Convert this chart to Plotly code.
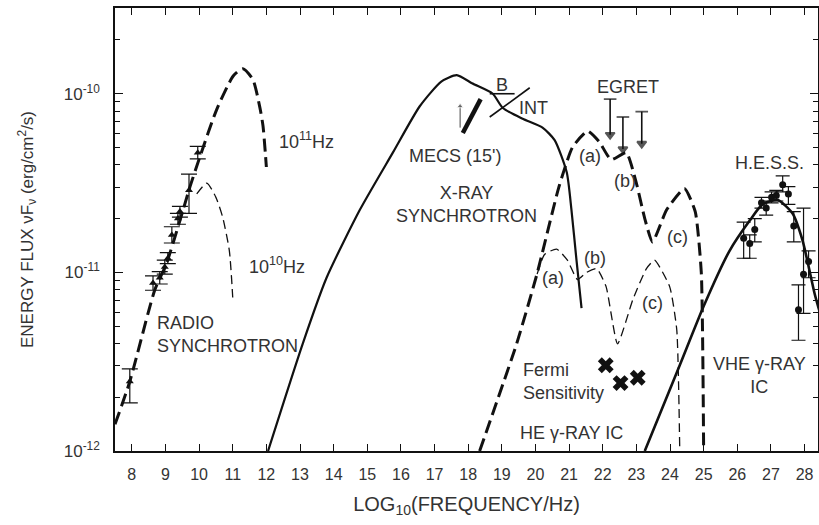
import plotly.graph_objects as go

# ---------------- data (log10 frequency, flux erg/cm^2/s) ----------------
radio_hi_x = [7.5, 7.94, 8.68, 9.03, 9.43, 9.73, 10.03, 10.52, 11.02, 11.3, 11.6, 11.8, 11.9, 12.0]
radio_hi_y = [1.41e-12, 2.45e-12, 7.94e-12, 1.12e-11, 1.95e-11, 3.02e-11, 4.47e-11, 8.13e-11,
              1.26e-10, 1.38e-10, 1.20e-10, 8.5e-11, 6.61e-11, 3.89e-11]

radio_lo_x = [9.93, 10.23, 10.5, 10.7, 10.9, 11.0]
radio_lo_y = [2.75e-11, 3.16e-11, 2.63e-11, 2.04e-11, 1.32e-11, 7.24e-12]

radio_pts_x = [7.94, 8.63, 8.83, 8.98, 9.07, 9.19, 9.37, 9.43, 9.70, 9.96]
radio_pts_y = [2.45e-12, 8.71e-12, 9.33e-12, 1.07e-11, 1.20e-11, 1.62e-11, 2.00e-11, 2.19e-11, 2.88e-11, 4.68e-11]
radio_pts_hi = [2.88e-12, 9.55e-12, 1.01e-11, 1.17e-11, 1.29e-11, 1.80e-11, 2.14e-11, 2.34e-11, 3.55e-11, 5.07e-11]
radio_pts_lo = [1.86e-12, 7.94e-12, 8.61e-12, 9.77e-12, 1.12e-11, 1.46e-11, 1.86e-11, 2.04e-11, 2.14e-11, 4.32e-11]

xray_x = [12.05, 13.08, 13.79, 14.78, 15.76, 16.56, 17.2, 17.66, 18.13, 18.73, 19.03, 19.62,
          20.21, 20.57, 20.93, 21.07, 21.22, 21.37]
xray_y = [1.0e-12, 3.98e-12, 9.33e-12, 2.24e-11, 4.68e-11, 8.51e-11, 1.17e-10, 1.27e-10, 1.14e-10,
          1.00e-10, 8.32e-11, 7.24e-11, 6.46e-11, 5.50e-11, 3.63e-11, 2.24e-11, 1.17e-11, 6.31e-12]

he_thick_x = [18.34, 19.44, 20.03, 20.7, 21.1, 21.55, 21.9, 22.25, 22.7, 23.0, 23.25, 23.48,
              23.9, 24.43, 24.75, 24.93, 25.0]
he_thick_y = [1.0e-12, 3.98e-12, 9.55e-12, 3.02e-11, 5.01e-11, 6.17e-11, 5.37e-11, 4.27e-11,
              4.68e-11, 3.16e-11, 2.00e-11, 1.48e-11, 2.24e-11, 2.95e-11, 2.19e-11, 1.0e-11, 1.0e-12]

he_thin_x = [20.05, 20.27, 20.63, 20.95, 21.25, 21.52, 21.82, 22.1, 22.44, 22.9, 23.3, 23.54,
             23.99, 24.2, 24.29]
he_thin_y = [9.77e-12, 1.26e-11, 1.35e-11, 1.17e-11, 9.12e-12, 1.00e-11, 1.05e-11, 8.32e-12,
             3.98e-12, 7.08e-12, 1.05e-11, 1.17e-11, 8.32e-12, 4.79e-12, 1.0e-12]

vhe_x = [23.25, 24.29, 25.0, 25.77, 26.37, 26.75, 27.2, 27.64, 27.94, 28.3, 28.45]
vhe_y = [1.0e-12, 3.02e-12, 6.46e-12, 1.32e-11, 1.95e-11, 2.40e-11, 2.54e-11, 2.14e-11,
         1.51e-11, 7.59e-12, 6.0e-12]

hess_x = [26.19, 26.37, 26.52, 26.72, 26.86, 27.02, 27.16, 27.35, 27.52, 27.68, 27.82, 27.97, 28.12]
hess_y = [1.55e-11, 1.45e-11, 1.74e-11, 2.45e-11, 2.29e-11, 2.63e-11, 2.69e-11, 3.09e-11,
          2.75e-11, 1.82e-11, 6.17e-12, 9.77e-12, 1.15e-11]
hess_hi = [1.91e-11, 1.62e-11, 2.00e-11, 2.63e-11, 2.51e-11, 2.82e-11, 2.88e-11, 3.47e-11,
           3.02e-11, 2.19e-11, 8.51e-12, 2.29e-11, 1.32e-11]
hess_lo = [1.20e-11, 1.20e-11, 1.48e-11, 2.29e-11, 2.09e-11, 2.45e-11, 2.51e-11, 2.82e-11,
           2.40e-11, 1.48e-11, 4.17e-12, 5.89e-12, 9.33e-12]

fermi_x = [22.09, 22.53, 23.04]
fermi_y = [3.02e-12, 2.40e-12, 2.57e-12]

egret_x = [22.22, 22.6, 23.16]
egret_top = [9.33e-11, 7.41e-11, 7.94e-11]
egret_tip = [5.89e-11, 4.90e-11, 5.25e-11]

mecs_x = [17.84, 18.37]
mecs_y = [6.03e-11, 9.33e-11]
mecs_arrow_x = [17.76, 17.76]
mecs_arrow_y = [6.46e-11, 8.51e-11]

b_x = [18.64, 19.38]
b_y = [1.0e-10, 1.0e-10]
int_x = [18.64, 19.83]
int_y = [7.41e-11, 1.08e-10]

x_ticks = list(range(8, 29))
y_tickvals = [1e-12, 1e-11, 1e-10]
y_ticktext = ["10<sup>-12</sup>", "10<sup>-11</sup>", "10<sup>-10</sup>"]

# ---------------- figure ----------------
INK = "#111111"
TXT = "#333333"
FONT = "Liberation Sans, Arial, sans-serif"
thick_dash = "13px,6px"
thin_dash = "9px,5px"

fig = go.Figure()

def line(x, y, width, dash="solid", smooth=0.6):
    fig.add_trace(go.Scatter(x=x, y=y, mode="lines", line=dict(color=INK, width=width, dash=dash,
                                                                 shape="spline", smoothing=smooth),
                             hoverinfo="skip", showlegend=False))

line(radio_hi_x, radio_hi_y, 3, thick_dash)
line(radio_lo_x, radio_lo_y, 1.3, thin_dash)
line(xray_x, xray_y, 2.2)
line(he_thick_x, he_thick_y, 3, thick_dash, 0.5)
line(he_thin_x, he_thin_y, 1.3, thin_dash, 0.5)
line(vhe_x, vhe_y, 2.6)

# radio data
fig.add_trace(go.Scatter(
    x=radio_pts_x, y=radio_pts_y, mode="markers",
    marker=dict(symbol="triangle-up", size=7, color=INK),
    error_y=dict(type="data", symmetric=False,
                 array=[h - v for h, v in zip(radio_pts_hi, radio_pts_y)],
                 arrayminus=[v - l for l, v in zip(radio_pts_lo, radio_pts_y)],
                 color=INK, thickness=1.2, width=8),
    showlegend=False, hoverinfo="skip"))

# HESS data
fig.add_trace(go.Scatter(
    x=hess_x, y=hess_y, mode="markers",
    marker=dict(symbol="circle", size=7, color=INK),
    error_y=dict(type="data", symmetric=False,
                 array=[h - v for h, v in zip(hess_hi, hess_y)],
                 arrayminus=[v - l for l, v in zip(hess_lo, hess_y)],
                 color=INK, thickness=1.2, width=7),
    showlegend=False, hoverinfo="skip"))

# Fermi sensitivity
fig.add_trace(go.Scatter(x=fermi_x, y=fermi_y, mode="markers",
                         marker=dict(symbol="x", size=14, color=INK),
                         showlegend=False, hoverinfo="skip"))

# EGRET upper limits
for xe, yt, yb in zip(egret_x, egret_top, egret_tip):
    fig.add_trace(go.Scatter(x=[xe, xe], y=[yt, yb], mode="lines+markers",
                             line=dict(color=INK, width=1.6),
                             marker=dict(symbol=["line-ew", "triangle-down"], size=[9, 8],
                                         color=INK, line=dict(color=INK, width=1.8)),
                             showlegend=False, hoverinfo="skip"))

# MECS
fig.add_trace(go.Scatter(x=mecs_x, y=mecs_y, mode="lines", line=dict(color=INK, width=4.5),
                         showlegend=False, hoverinfo="skip"))
fig.add_trace(go.Scatter(x=mecs_arrow_x, y=mecs_arrow_y, mode="lines+markers",
                         line=dict(color="#444444", width=1),
                         marker=dict(symbol=["circle", "triangle-up"], size=[0, 6], color="#444444"),
                         showlegend=False, hoverinfo="skip"))
# B and INT
fig.add_trace(go.Scatter(x=b_x, y=b_y, mode="lines", line=dict(color=INK, width=1.6),
                         showlegend=False, hoverinfo="skip"))
fig.add_trace(go.Scatter(x=int_x, y=int_y, mode="lines", line=dict(color=INK, width=1.6),
                         showlegend=False, hoverinfo="skip"))

# ---------------- text ----------------
ANN = 18

def txt(x, logy, s, xanchor="center", align="center", size=ANN):
    fig.add_annotation(x=x, y=logy, text=s, showarrow=False, xanchor=xanchor, yanchor="middle",
                       align=align, font=dict(size=size, color=TXT, family=FONT))

txt(13.2, -10.26, "10<sup>11</sup>Hz")
txt(12.31, -10.96, "10<sup>10</sup>Hz")
txt(8.68, -11.35, "RADIO<br>SYNCHROTRON", xanchor="left", align="left")
txt(17.6, -10.35, "MECS (15')")
txt(17.96, -10.62, "X-RAY<br>SYNCHROTRON")
txt(19.0, -9.95, "B")
txt(19.95, -10.08, "INT")
txt(22.74, -9.965, "EGRET")
txt(21.61, -10.35, "(a)")
txt(22.65, -10.49, "(b)")
txt(24.23, -10.80, "(c)")
txt(20.51, -11.03, "(a)")
txt(21.76, -10.92, "(b)")
txt(23.48, -11.17, "(c)")
txt(19.56, -11.61, "Fermi<br>Sensitivity", xanchor="left", align="left")
txt(21.08, -11.90, "HE γ-RAY IC")
txt(26.97, -10.385, "H.E.S.S.")
txt(26.66, -11.58, "VHE γ-RAY<br>IC")

fig.update_layout(
    width=819, height=525,
    margin=dict(l=115, r=1, t=8, b=74),
    paper_bgcolor="white", plot_bgcolor="white",
    font=dict(family=FONT, color=TXT, size=16),
    showlegend=False,
)
fig.update_xaxes(
    range=[7.5, 28.4], tickmode="array", tickvals=x_ticks, automargin=False,
    ticks="inside", ticklen=7, tickwidth=1.2, tickcolor=INK, ticklabelstandoff=8,
    showline=True, linecolor=INK, linewidth=1.5, mirror="ticks",
    showgrid=False, zeroline=False,
    tickfont=dict(size=16, color=TXT, family=FONT),
    title=dict(text="LOG<sub>10</sub>(FREQUENCY/Hz)", font=dict(size=20, color=TXT, family=FONT),
               standoff=15),
)
fig.update_yaxes(
    type="log", range=[-12, -9.52], tickmode="array", tickvals=y_tickvals, ticktext=y_ticktext,
    automargin=False, ticklabelstandoff=10,
    ticks="inside", ticklen=8, tickwidth=1.2, tickcolor=INK,
    minor=dict(ticks="inside", ticklen=5, tickcolor=INK, tickwidth=1,
               tickvals=[m * d for d in (1e-12, 1e-11, 1e-10) for m in range(2, 10)]),
    showline=True, linecolor=INK, linewidth=1.5, mirror="ticks",
    showgrid=False, zeroline=False,
    tickfont=dict(size=17, color=TXT, family=FONT),
    title=dict(text="ENERGY FLUX νF<sub>ν</sub> (erg/cm<sup>2</sup>/s)",
               font=dict(size=17, color=TXT, family=FONT), standoff=26),
)

fig.write_html("out.html", config={"displayModeBar": False},
               post_script="document.body.style.margin='0px';document.body.style.overflow='hidden';")
